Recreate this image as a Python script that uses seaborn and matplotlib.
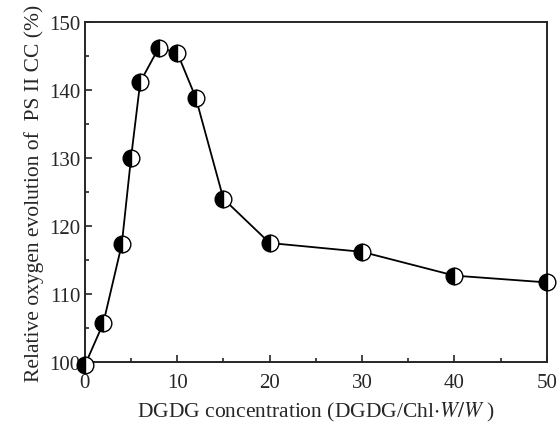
import matplotlib
matplotlib.use("Agg")
import matplotlib.pyplot as plt
import seaborn as sns
import pandas as pd
from matplotlib.ticker import MultipleLocator

conc = [0, 2, 4, 5, 6, 8, 10, 12, 15, 20, 30, 40, 50]
activity = [99.5, 105.7, 117.3, 130.0, 141.2, 146.2, 145.5, 138.9, 124.0, 117.5, 116.2, 112.7, 111.7]

df = pd.DataFrame({"conc": conc, "activity": activity})

sns.set_style("ticks")
plt.rcParams['font.family'] = ['Liberation Serif', 'DejaVu Serif']
plt.rcParams['mathtext.fontset'] = 'stix'

fig = plt.figure(figsize=(5.58, 4.27), dpi=100)
ax = fig.add_axes([0.152, 0.150, 0.828, 0.796])

sns.lineplot(data=df, x="conc", y="activity", ax=ax, color="black", lw=1.3,
             marker="o", markersize=12, fillstyle="left",
             markerfacecolor="black", markerfacecoloralt="white",
             markeredgecolor="black", markeredgewidth=1.0, clip_on=False, zorder=3)

ax.set_xlim(0, 50)
ax.set_ylim(100, 150)
ax.xaxis.set_major_locator(MultipleLocator(10))
ax.xaxis.set_minor_locator(MultipleLocator(5))
ax.yaxis.set_major_locator(MultipleLocator(10))
ax.yaxis.set_minor_locator(MultipleLocator(5))
ax.tick_params(which="both", direction="in", top=False, right=False, labelsize=15, width=1.2)
ax.tick_params(which="major", length=5)
ax.tick_params(which="minor", length=3)
ax.tick_params(axis="x", pad=8)
ax.tick_params(axis="y", pad=3)
for s in ax.spines.values():
    s.set_visible(True)
    s.set_linewidth(1.4)

ax.set_xlabel(r"DGDG concentration (DGDG/Chl$\cdot$$\it{W/W}$ )", fontsize=15.5, labelpad=6)
ax.set_ylabel("Relative oxygen evolution of  PS II CC (%)", fontsize=15.5, labelpad=4)

fig.savefig("out.png", dpi=100)
